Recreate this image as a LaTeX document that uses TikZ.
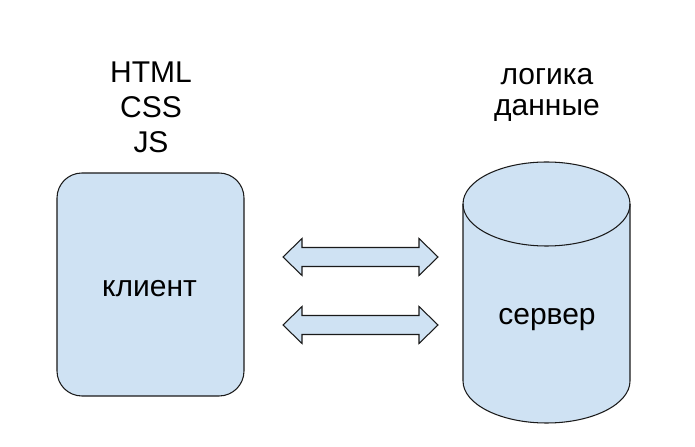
\documentclass[tikz,border=0pt]{standalone}
\usepackage{fontspec}
\setmainfont{Liberation Sans}
\definecolor{boxfill}{HTML}{CFE2F3}
\definecolor{boxline}{HTML}{1A1A1A}
\tikzset{
  shape border/.style={draw=boxline, line width=0.9pt, fill=boxfill},
  caption/.style={font=\fontsize{25.6}{29.9}\selectfont, align=center, inner sep=0pt},
  label text/.style={font=\fontsize{25.6}{29.9}\selectfont, inner sep=0pt, anchor=base}
}
\begin{document}
\begin{tikzpicture}[x=0.03cm, y=0.03cm]
  \useasboundingbox (0,0) rectangle (695,447);

  % client box
  \node[shape border, rounded corners=0.75cm, minimum width=5.61cm, minimum height=6.69cm]
    (client) at (150.5,162.5) {};
  \node[label text] (clientText) at (149.5,150) {клиент};

  % server cylinder
  \coordinate (srvTL) at (463,243);
  \coordinate (srvBL) at (463,66);
  \coordinate (srvTR) at (630,243);
  \draw[shape border] (srvTL) -- (srvBL) arc (180:360:2.505cm and 1.26cm)
    -- (srvTR) arc (0:180:2.505cm and 1.26cm) -- cycle;
  \draw[draw=boxline, line width=0.9pt] (srvTL) arc (180:360:2.505cm and 1.26cm);
  \node[label text] (serverText) at (547,122) {сервер};

  % double arrows
  \foreach \y in {190,122}
    \draw[shape border, line join=miter] (283,\y) -- (302,\y+18.5) -- (302,\y+9.5)
      -- (419,\y+9.5) -- (419,\y+18.5) -- (438,\y) -- (419,\y-18.5)
      -- (419,\y-9.5) -- (302,\y-9.5) -- (302,\y-18.5) -- cycle;

  % captions (base = last line)
  \node[caption, anchor=base] (clientTech) at (151,294) {HTML\\CSS\\JS};
  \node[caption, anchor=base, font=\fontsize{25.6}{27.3}\selectfont] (serverTech) at (547,331) {логика\\данные};
\end{tikzpicture}
\end{document}
